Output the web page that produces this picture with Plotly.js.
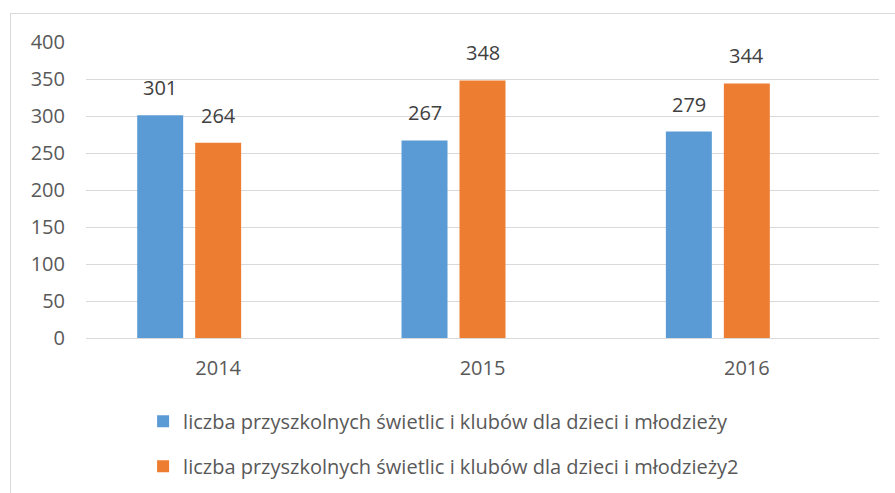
<!DOCTYPE html>
<html>
<head>
<meta charset="utf-8">
<script src="https://cdn.plot.ly/plotly-3.0.1.min.js"></script>
<style>
html,body{margin:0;padding:0;background:#fff;}
#wrap{position:relative;width:895px;height:493px;overflow:hidden;}
#chart{position:absolute;left:0;top:0;width:895px;height:493px;}
#frame{position:absolute;left:10px;top:13px;width:900px;height:500px;border:1px solid #d9d9d9;pointer-events:none;}
</style>
</head>
<body>
<div id="wrap"><div id="chart"></div><div id="frame"></div></div>
<script>
const categories = ['2014', '2015', '2016'];
const seriesNames = [
  'liczba przyszkolnych świetlic i klubów dla dzieci i młodzieży',
  'liczba przyszkolnych świetlic i klubów dla dzieci i młodzieży2'
];
const series1 = [301, 267, 279];
const series2 = [264, 348, 344];
const emptySeries = [0, 0, 0];
const yTicks = [0, 50, 100, 150, 200, 250, 300, 350, 400];

const FONT = '"Open Sans", Lato, sans-serif';
const colors = ['#5B9BD5', '#ED7D31'];

const traces = [
  {type:'bar', x:categories, y:series1, name:seriesNames[0], marker:{color:colors[0]}, legendgroup:'a', hoverinfo:'skip'},
  {type:'bar', x:categories, y:series2, name:seriesNames[1], marker:{color:colors[1]}, legendgroup:'b', hoverinfo:'skip'},
  {type:'bar', x:categories, y:emptySeries, name:'placeholder', showlegend:false, opacity:0, hoverinfo:'skip'}
];

const slot = 58;
const annotations = [];
[series1, series2].forEach((vals, si) => {
  vals.forEach((v, i) => {
    annotations.push({
      x: i, y: v, xref:'x', yref:'y',
      text: String(v), showarrow:false,
      xshift: (si - 1) * slot, yanchor:'bottom', yshift: 12,
      font:{family:FONT, size:20, color:'#404040'}
    });
  });
});

const layout = {
  width:895, height:493,
  margin:{l:86, r:16, t:42, b:155, autoexpand:false},
  paper_bgcolor:'#fff', plot_bgcolor:'#fff',
  barmode:'group', bargap:0.342, bargroupgap:0.207,
  font:{family:FONT, size:20, color:'#595959'},
  xaxis:{type:'category', categoryarray:categories, range:[-0.5, 2.5], autorange:false,
         showgrid:false, zeroline:false, showline:false,
         ticks:'', ticklabelstandoff:16, tickfont:{family:FONT, size:20, color:'#595959'}},
  yaxis:{range:[0,400], autorange:false, tickvals:yTicks, ticktext:yTicks.map(String), showgrid:true, gridcolor:'#d9d9d9', gridwidth:1,
         zeroline:true, zerolinecolor:'#d9d9d9', zerolinewidth:1, showline:false, ticks:'',
         ticklabelstandoff:20, tickfont:{family:FONT, size:20, color:'#595959'}},
  showlegend:true,
  legend:{orientation:'v', x:0.072, xanchor:'left', xref:'paper', yref:'container', y:0.185, yanchor:'top',
          font:{family:FONT, size:20, color:'#595959'}, tracegroupgap:16, bgcolor:'rgba(0,0,0,0)'},
  annotations:annotations
};

Plotly.newPlot('chart', traces, layout, {staticPlot:true, displayModeBar:false});
</script>
</body>
</html>
